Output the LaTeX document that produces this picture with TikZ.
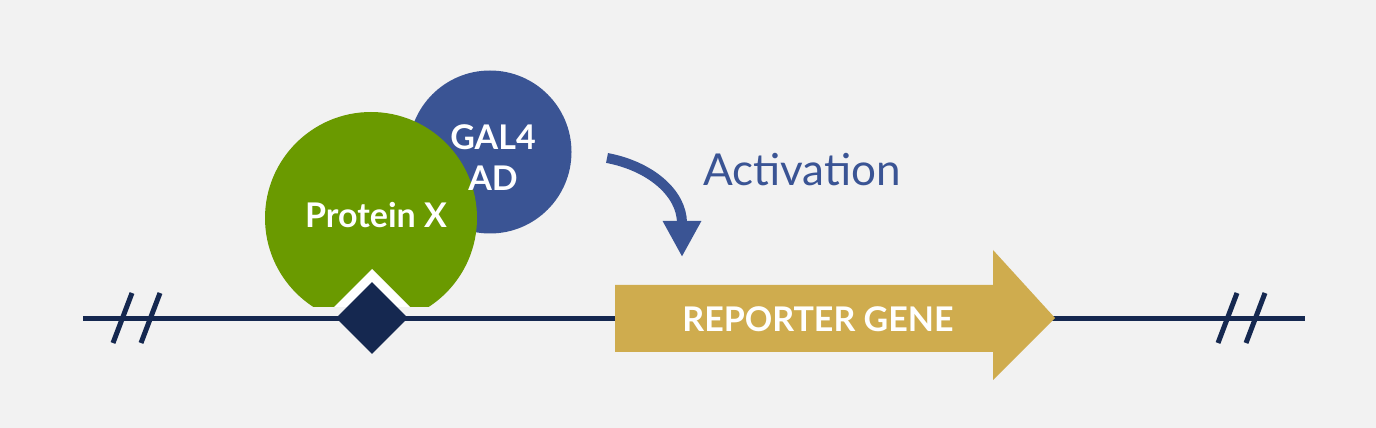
\documentclass[tikz,border=0pt]{standalone}
\usepackage{fontspec}
\setmainfont{Lato}
\usetikzlibrary{arrows.meta,shapes.geometric}
\definecolor{bg}{HTML}{F2F2F2}
\definecolor{navy}{HTML}{152850}
\definecolor{gblue}{HTML}{3A5494}
\definecolor{pgreen}{HTML}{6A9A00}
\definecolor{gold}{HTML}{CFAC4E}
\tikzset{
  x=1pt,y=1pt,
  dna/.style={draw=navy,line width=5pt},
  slash/.style={draw=navy,line width=5pt},
  whitelabel/.style={text=white,font=\bfseries\fontsize{34}{38}\selectfont,align=center,inner sep=0pt},
}
\begin{document}
\begin{tikzpicture}
\fill[bg] (0,0) rectangle (1376,428);
\useasboundingbox (0,0) rectangle (1376,428);
% DNA line
\coordinate (L) at (83,109);
\coordinate (R) at (1305,109);
\draw[dna] (L) -- (R);
% slashes
\draw[slash] (113,85) -- (132,135);
\draw[slash] (141,85) -- (160,135);
\draw[slash] (1218,85) -- (1237,135);
\draw[slash] (1246,85) -- (1265,135);
% GAL4 AD circle
\fill[gblue] (490,276) circle (81.5);
% Protein X shape
\begin{scope}
  \clip (200,121) rectangle (600,400);
  \fill[pgreen] (371,210) circle (106);
  \clip (371,210) circle (106);
  \fill[white] (372,159) -- (421,110) -- (372,61) -- (323,110) -- cycle;
\end{scope}
% diamond
\node[diamond,fill=navy,minimum width=72pt,minimum height=72pt,inner sep=0pt] (bind) at (372,110) {};
% labels
\node[whitelabel] (gal) at (493,270) {GAL4\\[3pt]AD};
\node[whitelabel] (px) at (376,213) {Protein X};
% reporter arrow
\fill[gold] (615,143) -- (993,143) -- (993,178) -- (1055,110) -- (993,48) -- (993,76) -- (615,76) -- cycle;
\node[whitelabel] (rep) at (818,109) {REPORTER GENE};
% activation arrow
\coordinate (as) at (607,270);
\coordinate (ae) at (682,171);
\draw[gblue,line width=10pt,-{Triangle[width=36pt,length=36pt]}] (as) .. controls (650,262) and (682,235) .. (ae);
\node[text=gblue,font=\fontsize{44}{48}\selectfont,inner sep=0pt] (act) at (802,258) {Activation};
\end{tikzpicture}
\end{document}
